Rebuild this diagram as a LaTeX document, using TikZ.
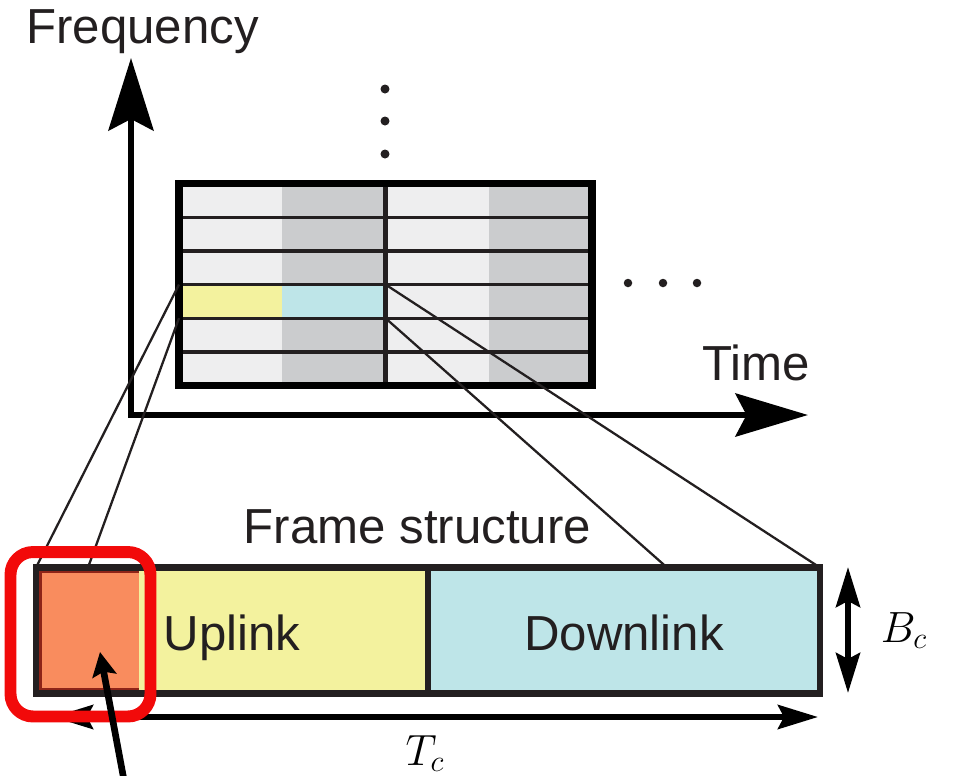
\documentclass[tikz,border=0pt]{standalone}
\usepackage{fontspec}
\setmainfont{Liberation Sans}
\usepackage{tikz}
\usetikzlibrary{arrows.meta, positioning, calc}
\definecolor{celllight}{HTML}{EEEEEF}
\definecolor{celldark}{HTML}{CBCCCE}
\definecolor{upyellow}{HTML}{F3F29E}
\definecolor{downcyan}{HTML}{BEE5E8}
\definecolor{pilotorange}{HTML}{F98C5E}
\definecolor{pilotedge}{HTML}{8E2418}
\definecolor{markred}{HTML}{F20A0A}
\definecolor{inkdark}{HTML}{231F20}
\tikzset{
  lab/.style={font=\fontsize{28}{34}\selectfont, text=inkdark, inner sep=0pt},
  mathlab/.style={font=\fontsize{26}{31}\selectfont, inner sep=0pt},
  slot/.style={inner sep=0pt, outer sep=0pt, minimum width=7.84cm, minimum height=2.52cm},
  cellbox/.style={inner sep=0pt, outer sep=0pt, minimum width=2.065cm, minimum height=0.673cm},
  axisline/.style={line width=3.6pt, {Stealth[length=1.45cm, width=0.9cm, inset=0.23cm]}-{Stealth[length=1.45cm, width=0.86cm, inset=0.22cm]}},
  dimline/.style={line width=3.4pt, {Stealth[length=0.8cm, width=0.48cm, inset=0.12cm]}-{Stealth[length=0.8cm, width=0.48cm, inset=0.12cm]}},
  zoomline/.style={line width=1.3pt, inkdark},
  frameline/.style={line width=3.5pt, inkdark},
}

\begin{document}
\begin{tikzpicture}[x=0.02cm, y=-0.02cm,
  rowline/.style={line width=1.9pt, inkdark},
  midline/.style={line width=2.6pt, inkdark},
  gridborder/.style={line width=4.2pt, black},
  markbox/.style={draw=markred, line width=6.8pt, rounded corners=0.45cm, inner sep=0pt, minimum width=2.8cm, minimum height=3.29cm},
  pointer/.style={line width=3.8pt, -{Stealth[length=0.48cm, width=0.48cm, inset=0.08cm]}}]
  \useasboundingbox (0,0) rectangle (954,775);
  \coordinate (origin) at (131,415);
  \coordinate (ftip) at (131,58);
  \coordinate (ttip) at (808,415);
  \draw[axisline] (ftip) -- (origin) -- (ttip);
  \node[lab, anchor=base west] (freqlab) at (26,43) {Frequency};
  \node[lab, anchor=base west] (timelab) at (702,380) {Time};
  \foreach \x/\c in {179/celllight, 282.25/celldark, 385.5/celllight, 488.75/celldark} \fill[\c] (\x,183.5) rectangle ++(103.25,202);
  \node[cellbox, fill=upyellow] (ucell) at (230.625,301.33) {};
  \node[cellbox, fill=downcyan] (dcell) at (333.875,301.33) {};
  \foreach \y in {217.17,250.83,284.5,318.17,351.83} \draw[rowline] (179,\y) -- (592,\y);
  \draw[midline] (385.5,183.5) -- (385.5,385.5);
  \draw[gridborder] (179,183.5) rectangle (592,385.5);
  \foreach \y in {89,121,154} \fill[inkdark] (385,\y) circle (0.09cm);
  \foreach \x in {628,663,697} \fill[inkdark] (\x,283) circle (0.085cm);
  \node[slot, fill=upyellow] (uplink) at (232,630.5) {};
  \node[slot, fill=downcyan, right=0pt of uplink] (downlink) {};
  \coordinate (dlmark) at (667,567.5);
  \draw[zoomline] (ucell.north west) -- (uplink.north west);
  \draw[zoomline] (ucell.south west) -- (88,567.5);
  \draw[zoomline] (dcell.north east) -- (downlink.north east);
  \draw[zoomline] (dcell.south east) -- (dlmark);
  \node[slot, fill=pilotorange, minimum width=1.97cm, minimum height=2.36cm] (pilot) at (89.75,630.5) {};
  \draw[line width=1.8pt, pilotedge] (pilot.north east) -- (pilot.north west) -- (pilot.south west) -- (pilot.south east);
  \draw[frameline] (uplink.north west) rectangle (downlink.south east);
  \draw[frameline] (uplink.north east) -- (uplink.south east);
  \node[lab, anchor=base] (uptext) at (232,650) {Uplink};
  \node[lab, anchor=base] (downtext) at (624,650) {Downlink};
  \node[lab, anchor=base] (frametext) at (417.5,543) {Frame structure};
  \coordinate (tcl) at (53,717);
  \coordinate (tcr) at (818,717);
  \draw[dimline] (tcl) -- (tcr);
  \node[mathlab, anchor=base] (tclab) at (425,765) {$T_c$};
  \coordinate (bct) at (848,567);
  \coordinate (bcb) at (848,693);
  \draw[dimline] (bct) -- (bcb);
  \node[mathlab, anchor=base] (bclab) at (904,642) {$B_c$};
  \node[markbox] (mark) at (80.5,634.25) {};
  \coordinate (ptail) at (127.7,800);
  \coordinate (ptip) at (100,652);
  \draw[pointer] (ptail) -- (ptip);
\end{tikzpicture}
\end{document}
